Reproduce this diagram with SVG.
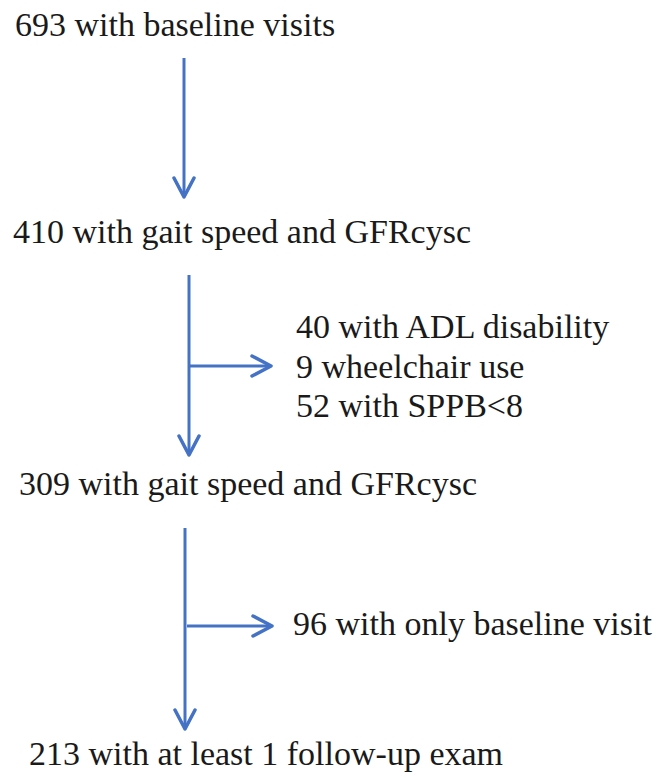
<svg xmlns="http://www.w3.org/2000/svg" width="661" height="782" viewBox="0 0 661 782">
<defs>
<style>
.t{font-size:34px;fill:#1a1a1a}
.c{stroke:#4472C4;stroke-width:3;fill:none}
.h{stroke:#4472C4;stroke-width:3.5;fill:none;stroke-linecap:round;stroke-linejoin:round}
</style>
<marker id="ah" markerUnits="userSpaceOnUse" viewBox="-22 -12 24 24" markerWidth="24" markerHeight="24" refX="0" refY="0" orient="auto">
<path class="h" d="M-19,-10 L0,0 L-19,10"/>
</marker>
</defs>
<rect width="661" height="782" fill="#ffffff"/>
<g id="connectors">
<line class="c" x1="184" y1="58" x2="184" y2="197" marker-end="url(#ah)"/>
<line class="c" x1="189" y1="275" x2="189" y2="455" marker-end="url(#ah)"/>
<line class="c" x1="189" y1="366" x2="271" y2="366" marker-end="url(#ah)"/>
<line class="c" x1="185" y1="528" x2="185" y2="729" marker-end="url(#ah)"/>
<line class="c" x1="187" y1="626" x2="272" y2="626" marker-end="url(#ah)"/>
</g>
<g font-family="'Liberation Serif', 'Times New Roman', serif">
<g id="n1"><text class="t" x="15" y="36">693 with baseline visits</text></g>
<g id="n2"><text class="t" x="13" y="243">410 with gait speed and GFRcysc</text></g>
<g id="n3">
<text class="t" x="296" y="338">40 with ADL disability</text>
<text class="t" x="296" y="378">9 wheelchair use</text>
<text class="t" x="296" y="417">52 with SPPB&lt;8</text>
</g>
<g id="n4"><text class="t" x="19" y="495">309 with gait speed and GFRcysc</text></g>
<g id="n5"><text class="t" x="293" y="635">96 with only baseline visit</text></g>
<g id="n6"><text class="t" x="29" y="765">213 with at least 1 follow-up exam</text></g>
</g>
</svg>
